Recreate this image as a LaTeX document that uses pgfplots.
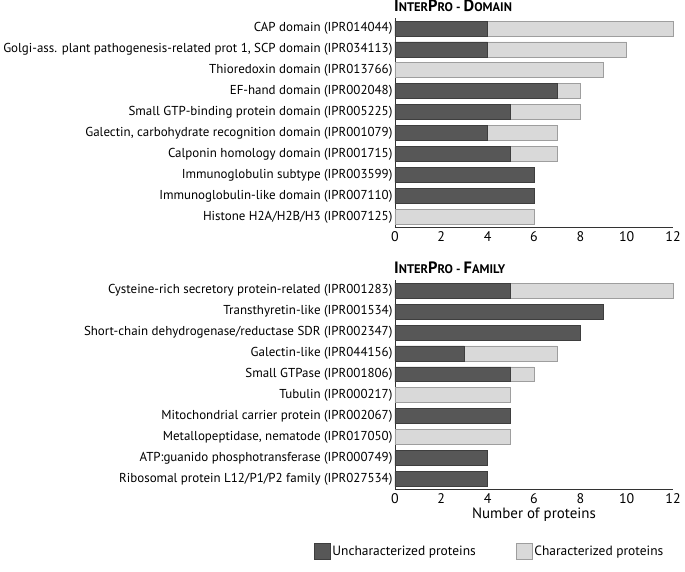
\documentclass[border=0pt]{standalone}
\usepackage{fontspec}
\setmainfont{PT Sans}
\usepackage{pgfplots}
\usepackage{pgfplotstable}
\pgfplotsset{compat=1.18}

\definecolor{UnchFill}{HTML}{575757}
\definecolor{UnchLine}{HTML}{3E3E3E}
\definecolor{CharFill}{HTML}{D9D9D9}
\definecolor{CharLine}{HTML}{9E9E9E}

\newcommand{\BC}[1]{{\fontsize{16.5}{18}\selectfont #1}}
\newcommand{\sctitle}[1]{{\bfseries\fontsize{12.5}{14}\selectfont #1}}

\pgfplotstableread{
idx unchar char
0 4 8
1 4 6
2 0 9
3 7 1
4 5 3
5 4 3
6 5 2
7 6 0
8 6 0
9 0 6
}\domaintable

\pgfplotstableread{
idx unchar char
0 5 7
1 9 0
2 8 0
3 3 4
4 5 1
5 0 5
6 5 0
7 0 5
8 4 0
9 4 0
}\familytable

\pgfplotsset{
  hbars/.style={
    xbar stacked,
    scale only axis,
    width=279pt, height=210pt,
    xmin=0, xmax=12, ymin=-0.5, ymax=9.5,
    y dir=reverse,
    bar width=15pt,
    axis x line*=bottom, axis y line*=left,
    axis line style={-, draw=black!80, line width=0.8pt},
    xtick={0,2,...,12}, ytick={0,...,9},
    major tick length=0pt,
    /pgf/number format/assume math mode=true,
    tick label style={font=\fontsize{14}{16}\selectfont},
    x tick label style={yshift=-1pt},
    yticklabel style={font=\fontsize{13}{15}\selectfont},
    y tick label style={xshift=1pt},
    clip=false,
    legend image code/.code={\draw[#1] (0pt,-8pt) rectangle (16pt,8pt);},
  },
  unch/.style={fill=UnchFill, draw=UnchLine, line width=0.8pt},
  char/.style={fill=CharFill, draw=CharLine, line width=0.8pt},
}

\begin{document}
\begin{tikzpicture}
\begin{axis}[hbars,
  yticklabels={
    CAP domain (IPR014044),
    {Golgi-ass. plant pathogenesis-related prot 1, SCP domain (IPR034113)},
    Thioredoxin domain (IPR013766),
    EF-hand domain (IPR002048),
    Small GTP-binding protein domain (IPR005225),
    {Galectin, carbohydrate recognition domain (IPR001079)},
    Calponin homology domain (IPR001715),
    Immunoglobulin subtype (IPR003599),
    Immunoglobulin-like domain (IPR007110),
    Histone H2A/H2B/H3 (IPR007125)},
]
\addplot[unch] table[x=unchar, y=idx] {\domaintable};
\addplot[char] table[x=char, y=idx] {\domaintable};
\node[anchor=south west, inner sep=0pt] at (rel axis cs:0,1) [xshift=-1pt, yshift=6pt]
  {\sctitle{\BC{I}NTER\BC{P}RO - \BC{D}OMAIN}};
% page margins as in the reference
\path (rel axis cs:0,1) ++(0,23pt);
\path (rel axis cs:1,1) ++(12pt,0);
\end{axis}

\begin{axis}[hbars, at={(0pt,-263pt)},
  xlabel={Number of proteins},
  xlabel style={font=\fontsize{15}{17}\selectfont, yshift=3pt},
  yticklabels={
    Cysteine-rich  secretory protein-related (IPR001283),
    Transthyretin-like (IPR001534),
    Short-chain dehydrogenase/reductase SDR (IPR002347),
    Galectin-like (IPR044156),
    Small GTPase (IPR001806),
    Tubulin (IPR000217),
    Mitochondrial carrier protein (IPR002067),
    {Metallopeptidase, nematode (IPR017050)},
    ATP:guanido phosphotransferase (IPR000749),
    Ribosomal protein L12/P1/P2 family (IPR027534)},
  legend columns=2,
  legend style={draw=none, at={(rel axis cs:0.34,-0.295)}, anchor=center,
    font=\fontsize{13.5}{15}\selectfont,
    /tikz/every even column/.append style={column sep=38pt}},
]
\addplot[unch] table[x=unchar, y=idx] {\familytable};
\addlegendentry{Uncharacterized proteins}
\addplot[char] table[x=char, y=idx] {\familytable};
\addlegendentry{Characterized proteins}
\node[anchor=south west, inner sep=0pt] at (rel axis cs:0,1) [xshift=-1pt, yshift=6pt]
  {\sctitle{\BC{I}NTER\BC{P}RO - \BC{F}AMILY}};
\path (rel axis cs:0,0) ++(0,-72pt);
\end{axis}
\end{tikzpicture}
\end{document}
